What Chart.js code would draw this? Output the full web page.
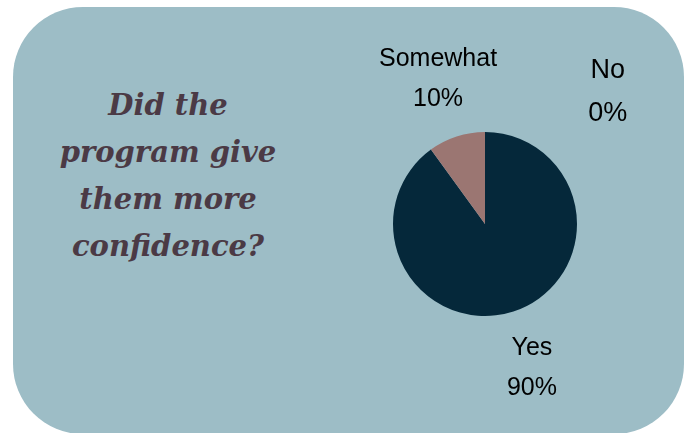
<!DOCTYPE html>
<html>
<head>
<meta charset="utf-8">
<script src="https://cdn.jsdelivr.net/npm/chart.js@4"></script>
<style>
  html, body { margin: 0; padding: 0; background: #ffffff; }
  #wrap { position: relative; width: 689px; height: 433px; overflow: hidden; }
  #card {
    position: absolute; left: 13px; top: 7px; width: 671px; height: 427px;
    background: #9dbdc6; border-radius: 70px;
  }
  #title {
    position: absolute; left: 28px; top: 82px; width: 280px;
    text-align: center; color: #4b3a45;
    font-family: "DejaVu Serif", serif; font-weight: bold; font-style: italic;
    font-size: 29px; line-height: 47px; letter-spacing: 0;
  }
  #chart { position: absolute; left: 0; top: 0; }
</style>
</head>
<body>
<div id="wrap">
  <div id="card"></div>
  <div id="title">Did the<br>program give<br>them more<br>confidence?</div>
  <canvas id="chart" width="689" height="433"></canvas>
</div>
<script>
// chart data
const categories = ['Yes', 'Somewhat', 'No'];
const percentValues = [90, 10, 0];
const sliceColors = ['#05283a', '#9b7672', '#6d8a94'];

// draws "Name" + "NN%" outside each slice
const outsideLabels = {
    id: 'outsideLabels',
    afterDraw(chart, args, opts) {
        const ctx = chart.ctx;
        const meta = chart.getDatasetMeta(0);
        ctx.save();
        ctx.fillStyle = '#000000';
        ctx.textAlign = 'center';
        ctx.textBaseline = 'middle';
        meta.data.forEach((arc, i) => {
            const p = arc.getProps(['x', 'y', 'startAngle', 'endAngle', 'outerRadius'], true);
            let angle = (p.startAngle + p.endAngle) / 2;
            let dist = p.outerRadius + opts.gap;
            let size = opts.fontSize;
            if (percentValues[i] === 0) {
                // zero slice label pushed off to the side
                angle = opts.zeroAngle * Math.PI / 180;
                dist = p.outerRadius + opts.zeroGap;
                size = opts.zeroFontSize;
            }
            const cx = p.x + Math.cos(angle) * dist;
            const cy = p.y + Math.sin(angle) * dist;
            const lh = size * 1.6;
            ctx.font = size + 'px "Liberation Sans", Arial, sans-serif';
            ctx.fillText(categories[i], cx, cy - lh / 2);
            ctx.fillText(percentValues[i] + '%', cx, cy + lh / 2);
        });
        ctx.restore();
    }
};

new Chart(document.getElementById('chart').getContext('2d'), {
    type: 'pie',
    data: {
        labels: categories,
        datasets: [{
            data: percentValues,
            backgroundColor: sliceColors,
            borderWidth: 0
        }]
    },
    options: {
        responsive: false,
        animation: false,
        layout: {
            padding: { left: 393, right: 112, top: 132, bottom: 117 }
        },
        plugins: {
            legend: { display: false },
            tooltip: { enabled: false },
            outsideLabels: {
                gap: 60,
                fontSize: 25,
                zeroAngle: -47,
                zeroGap: 88,
                zeroFontSize: 27
            }
        }
    },
    plugins: [outsideLabels]
});
</script>
</body>
</html>
